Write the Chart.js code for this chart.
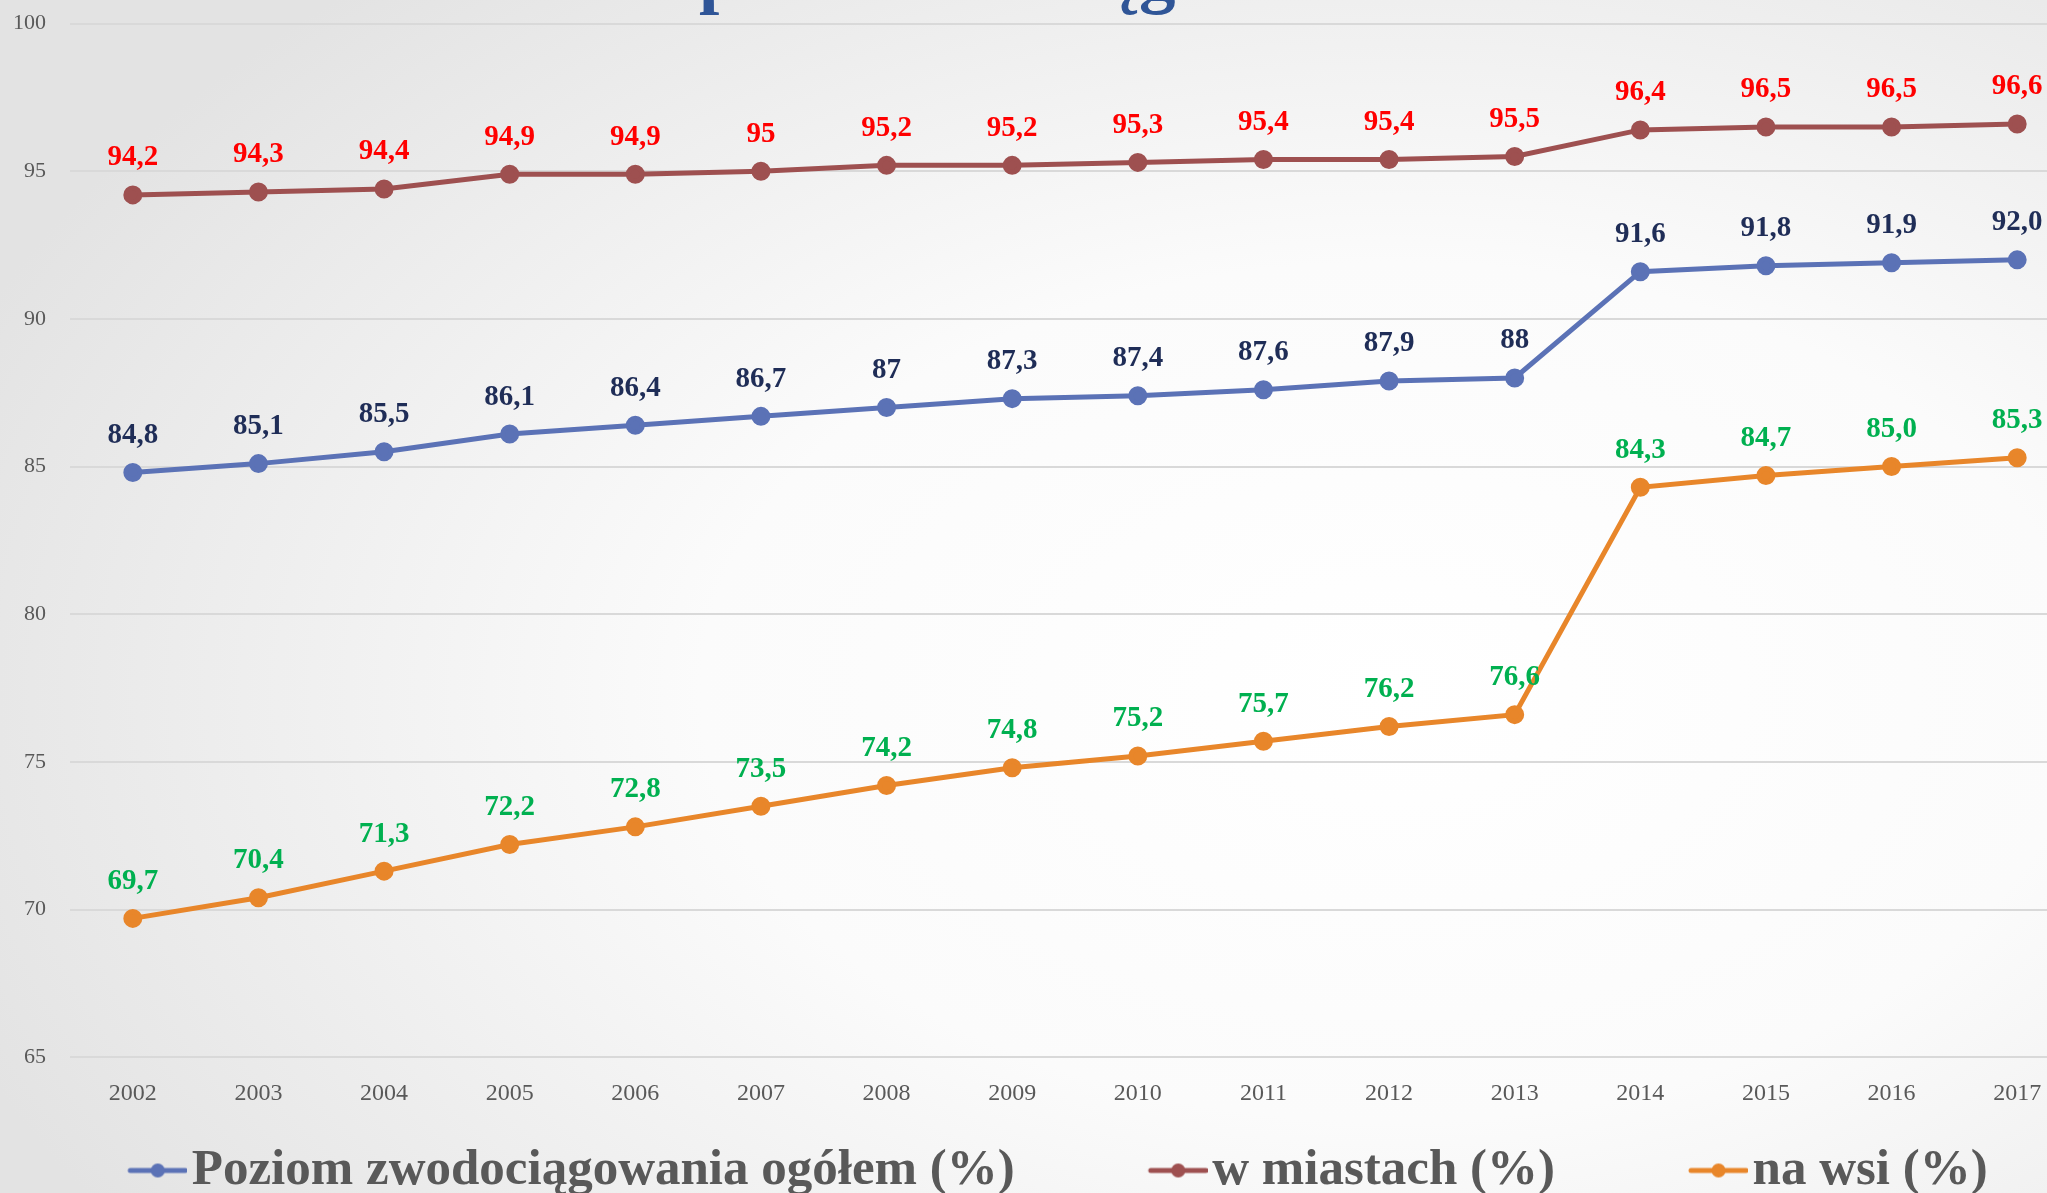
<!DOCTYPE html>
<html lang="pl">
<head>
<meta charset="utf-8">
<title>Stopień zwodociągowania</title>
<script src="https://cdn.jsdelivr.net/npm/chart.js@4.4.1/dist/chart.umd.min.js"></script>
<style>
  html, body {
    margin: 0;
    padding: 0;
    width: 2047px;
    height: 1193px;
    overflow: hidden;
    background: radial-gradient(ellipse 75% 80% at 68% 58%, #ffffff 0%, #fbfbfb 45%, #e3e3e3 100%);
  }
  #wrap {
    position: absolute;
    left: 0;
    top: -70px;
    width: 2100px;
    height: 1263px;
  }
</style>
</head>
<body>
<div id="wrap"><canvas id="chart"></canvas></div>
<script>
// dane z wykresu
const years = ['2002', '2003', '2004', '2005', '2006', '2007', '2008', '2009',
               '2010', '2011', '2012', '2013', '2014', '2015', '2016', '2017'];

const ogolem = [84.8, 85.1, 85.5, 86.1, 86.4, 86.7, 87, 87.3, 87.4, 87.6, 87.9, 88, 91.6, 91.8, 91.9, 92.0];
const miasta = [94.2, 94.3, 94.4, 94.9, 94.9, 95, 95.2, 95.2, 95.3, 95.4, 95.4, 95.5, 96.4, 96.5, 96.5, 96.6];
const wies    = [69.7, 70.4, 71.3, 72.2, 72.8, 73.5, 74.2, 74.8, 75.2, 75.7, 76.2, 76.6, 84.3, 84.7, 85.0, 85.3];

// etykiety tak jak na oryginale (czasem bez przecinka)
const ogolemLabels = ['84,8', '85,1', '85,5', '86,1', '86,4', '86,7', '87', '87,3', '87,4', '87,6', '87,9', '88', '91,6', '91,8', '91,9', '92,0'];
const miastaLabels = ['94,2', '94,3', '94,4', '94,9', '94,9', '95', '95,2', '95,2', '95,3', '95,4', '95,4', '95,5', '96,4', '96,5', '96,5', '96,6'];
const wiesLabels   = ['69,7', '70,4', '71,3', '72,2', '72,8', '73,5', '74,2', '74,8', '75,2', '75,7', '76,2', '76,6', '84,3', '84,7', '85,0', '85,3'];

const yTicks = [65, 70, 75, 80, 85, 90, 95, 100];

const serif = '"Palatino Linotype", "Book Antiqua", Palatino, "Liberation Serif", serif';

// znacznik legendy: kreska z kropka (po prawej stronie obrazka, blisko tekstu)
const BOX_W = 130;
function legendMarker(color) {
    const c = document.createElement('canvas');
    c.width = BOX_W + 42;
    c.height = 20;
    const g = c.getContext('2d');
    const x1 = c.width - 2, x0 = x1 - 55;
    g.strokeStyle = color;
    g.lineWidth = 5;
    g.lineCap = 'round';
    g.beginPath();
    g.moveTo(x0, 10);
    g.lineTo(x1, 10);
    g.stroke();
    g.fillStyle = color;
    g.beginPath();
    g.arc((x0 + x1) / 2, 10, 7, 0, Math.PI * 2);
    g.fill();
    return c;
}

const valueLabels = {
    id: 'valueLabels',
    afterDatasetsDraw(chart) {
        const ctx = chart.ctx;
        ctx.save();
        ctx.font = 'bold 29px ' + serif;
        ctx.textAlign = 'center';
        ctx.textBaseline = 'middle';
        chart.data.datasets.forEach((ds, i) => {
            const meta = chart.getDatasetMeta(i);
            ctx.fillStyle = ds.labelColor;
            meta.data.forEach((pt, j) => {
                ctx.fillText(ds.valueText[j], pt.x, pt.y - 37);
            });
        });
        ctx.restore();
    }
};

// legenda nizsza niz domyslnie, tytul przesuniety w prawo jak w oryginale
const layoutTweaks = {
    id: 'layoutTweaks',
    beforeInit(chart) {
        const lg = chart.legend;
        const fit = lg.fit;
        lg.fit = function () {
            fit.call(this);
            this.height = 63;
        };
    },
    afterLayout(chart) {
        chart.titleBlock.left += 200;
        chart.legend.left -= 28;
        chart.legend.right -= 28;
        chart.legend.top -= 27;
    }
};

const ctx = document.getElementById('chart').getContext('2d');
new Chart(ctx, {
    type: 'line',
    data: {
        labels: years,
        datasets: [{
            label: 'Poziom zwodociągowania ogółem (%)',
            data: ogolem,
            valueText: ogolemLabels,
            labelColor: '#1F2D57',
            borderColor: '#5B72B6',
            backgroundColor: '#5B72B6',
            borderWidth: 5,
            pointRadius: 7,
            pointHoverRadius: 7
        }, {
            label: 'w miastach (%)',
            data: miasta,
            valueText: miastaLabels,
            labelColor: '#FF0000',
            borderColor: '#9E5050',
            backgroundColor: '#9E5050',
            borderWidth: 5,
            pointRadius: 7,
            pointHoverRadius: 7
        }, {
            label: 'na wsi (%)',
            data: wies,
            valueText: wiesLabels,
            labelColor: '#00B050',
            borderColor: '#E8862A',
            backgroundColor: '#E8862A',
            borderWidth: 5,
            pointRadius: 7,
            pointHoverRadius: 7
        }]
    },
    options: {
        responsive: true,
        maintainAspectRatio: false,
        animation: false,
        layout: {
            padding: { left: 0, right: 20, top: 0, bottom: 0 }
        },
        plugins: {
            title: {
                display: true,
                text: 'Stopień zwodociągowania w Polsce',
                color: '#2F5597',
                font: { family: serif, size: 73, weight: 'bold' },
                padding: { top: 6, bottom: 0 }
            },
            legend: {
                position: 'bottom',
                labels: {
                    usePointStyle: true,
                    pointStyleWidth: BOX_W,
                    padding: 42,
                    color: '#595959',
                    font: { family: serif, size: 51, weight: 'bold' },
                    generateLabels(chart) {
                        return chart.data.datasets.map((ds, i) => ({
                            text: ds.label,
                            fillStyle: ds.borderColor,
                            strokeStyle: ds.borderColor,
                            lineWidth: 0,
                            fontColor: '#595959',
                            pointStyle: legendMarker(ds.borderColor),
                            hidden: false,
                            datasetIndex: i
                        }));
                    }
                }
            },
            tooltip: { enabled: false }
        },
        scales: {
            y: {
                min: 65,
                max: 100,
                afterBuildTicks(axis) {
                    axis.ticks = yTicks.map(v => ({ value: v }));
                },
                afterFit(axis) {
                    axis.width = 70;
                },
                ticks: {
                    color: '#595959',
                    padding: 24,
                    font: { family: serif, size: 22 }
                },
                grid: {
                    color: '#D9D9D9',
                    lineWidth: 2,
                    drawTicks: false
                },
                border: { display: false }
            },
            x: {
                offset: true,
                ticks: {
                    color: '#595959',
                    padding: 22,
                    font: { family: serif, size: 24 }
                },
                grid: { display: false, drawTicks: false },
                border: { display: false }
            }
        }
    },
    plugins: [valueLabels, layoutTweaks]
});
</script>
</body>
</html>
